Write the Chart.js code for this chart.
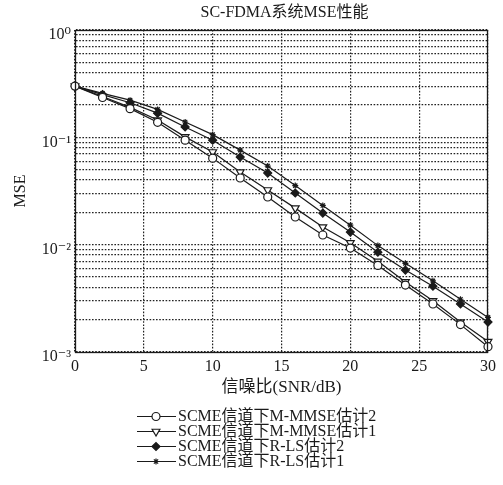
<!DOCTYPE html>
<html>
<head>
<meta charset="utf-8">
<script src="https://cdn.jsdelivr.net/npm/chart.js"></script>
<style>
  html, body { margin: 0; padding: 0; background: #fff; }
  #wrap { width: 503px; height: 485px; }
</style>
</head>
<body>
<div id="wrap"><canvas id="mse-chart" width="503" height="485"></canvas></div>
<script>
const snrValues = [0, 2, 4, 6, 8, 10, 12, 14, 16, 18, 20, 22, 24, 26, 28, 30];
// MSE, one value per SNR point
const mmseEst2 = [0.30, 0.235, 0.185, 0.138, 0.094, 0.064, 0.0418, 0.0278, 0.0181, 0.0123, 0.0093, 0.0064, 0.0042, 0.0028, 0.0018, 0.00112];
const mmseEst1 = [0.30, 0.24, 0.19, 0.145, 0.101, 0.073, 0.0475, 0.0323, 0.0219, 0.0146, 0.0104, 0.0070, 0.0045, 0.0030, 0.0019, 0.00125];
const rlsEst2 = [0.30, 0.25, 0.21, 0.168, 0.125, 0.094, 0.0655, 0.0465, 0.0303, 0.0197, 0.0131, 0.0085, 0.0058, 0.0041, 0.0028, 0.0019];
const rlsEst1 = [0.30, 0.257, 0.222, 0.182, 0.139, 0.106, 0.076, 0.054, 0.0355, 0.0232, 0.0152, 0.0098, 0.0067, 0.0046, 0.0031, 0.0021];

const seriesLabels = [
  'SCME信道下M-MMSE估计2',
  'SCME信道下M-MMSE估计1',
  'SCME信道下R-LS估计2',
  'SCME信道下R-LS估计1',
];
const yDecadeLabels = ['10⁻³', '10⁻²', '10⁻¹', '10⁰'];
const chartTitle = 'SC-FDMA系统MSE性能';
const xAxisTitle = '信噪比(SNR/dB)';
const yAxisTitle = 'MSE';

const SERIF = "'Liberation Serif', 'DejaVu Serif', 'Noto Sans CJK SC', serif";
const INK = '#1a1a1a';
const GRID = '#222';

function seriesPoints(values) {
  return snrValues.map((x, i) => ({ x: x, y: values[i] }));
}

function makeDataset(label, values, style) {
  return {
    label: label,
    data: seriesPoints(values),
    borderColor: INK,
    borderWidth: 1.2,
    pointBorderColor: INK,
    pointBorderWidth: 1.2,
    clip: false,
    ...style,
  };
}

const datasets = [
  makeDataset(seriesLabels[0], mmseEst2, { pointStyle: 'circle', pointRadius: 4, pointBackgroundColor: '#fff' }),
  makeDataset(seriesLabels[1], mmseEst1, { pointStyle: 'triangle', pointRotation: 180, pointRadius: 4.5, pointBackgroundColor: '#fff' }),
  makeDataset(seriesLabels[2], rlsEst2, { pointStyle: 'rectRot', pointRadius: 4, pointBackgroundColor: INK }),
  makeDataset(seriesLabels[3], rlsEst1, { pointStyle: 'star', pointRadius: 3, pointBackgroundColor: INK }),
];

// frame, title and the MATLAB style legend under the axis
const decorPlugin = {
  id: 'decor',
  afterDraw(chart) {
    const { ctx, chartArea: a } = chart;
    ctx.save();
    ctx.strokeStyle = INK;
    ctx.lineWidth = 1.3;
    ctx.strokeRect(a.left + 0.5, a.top + 0.5, a.right - a.left - 1, a.bottom - a.top);

    ctx.fillStyle = INK;
    ctx.font = '16px ' + SERIF;
    ctx.textAlign = 'center';
    ctx.textBaseline = 'middle';
    ctx.fillText(chartTitle, (a.left + a.right) / 2 + 3, 13);

    const rows = [416, 431, 446, 461];
    ctx.textAlign = 'left';
    chart.data.datasets.forEach((ds, i) => {
      const y = rows[i];
      ctx.strokeStyle = INK;
      ctx.lineWidth = 1.2;
      ctx.beginPath();
      ctx.moveTo(137, y + 0.5);
      ctx.lineTo(176, y + 0.5);
      ctx.stroke();
      const opts = {
        pointStyle: ds.pointStyle,
        radius: ds.pointRadius,
        rotation: ds.pointRotation || 0,
        borderWidth: 1.2,
      };
      ctx.fillStyle = ds.pointBackgroundColor;
      ctx.strokeStyle = INK;
      if (Chart.helpers && Chart.helpers.drawPoint) {
        Chart.helpers.drawPoint(ctx, opts, 156, y + 0.5);
      }
      ctx.fillStyle = INK;
      ctx.fillText(ds.label, 178, y + 1);
    });
    ctx.restore();
  },
};

function buildLogTicks(scale) {
  const ticks = [];
  for (let e = -3; e <= 0; e++) {
    for (let m = 1; m <= 9; m++) {
      const v = m * Math.pow(10, e);
      if (v > 1.0000001) break;
      ticks.push({ value: v });
    }
  }
  scale.ticks = ticks;
}

function logTickLabel(value) {
  const e = Math.round(Math.log10(value));
  if (Math.abs(value - Math.pow(10, e)) < 1e-9) {
    return yDecadeLabels[e + 3];
  }
  return '';
}

const ctx = document.getElementById('mse-chart').getContext('2d');
new Chart(ctx, {
  type: 'line',
  data: { datasets: datasets },
  options: {
    responsive: false,
    animation: false,
    layout: { padding: { top: 30, right: 15, bottom: 83, left: 0 } },
    plugins: {
      legend: { display: false },
      title: { display: false },
      tooltip: { enabled: false },
    },
    scales: {
      x: {
        type: 'linear',
        min: 0,
        max: 30,
        afterFit(scale) { scale.height = 50; },
        ticks: { stepSize: 5, color: INK, padding: 5, font: { family: SERIF, size: 16 } },
        grid: { color: GRID, lineWidth: 1.2, drawTicks: false },
        border: { display: true, color: INK, dash: [1.6, 1.6] },
        title: { display: true, text: xAxisTitle, color: INK, padding: { top: 0, bottom: 4 }, font: { family: SERIF, size: 17 } },
      },
      y: {
        type: 'logarithmic',
        min: 0.001,
        max: 1,
        afterFit(scale) { scale.width = 75; },
        afterBuildTicks: buildLogTicks,
        ticks: { autoSkip: false, color: INK, padding: 4, labelOffset: 5, font: { family: SERIF, size: 16 }, callback: logTickLabel },
        grid: { color: GRID, lineWidth: 1.2, drawTicks: false },
        border: { display: true, color: INK, dash: [1.6, 1.6] },
        title: { display: true, text: yAxisTitle, color: INK, padding: { top: 11, bottom: 0 }, font: { family: SERIF, size: 16 } },
      },
    },
  },
  plugins: [decorPlugin],
});
</script>
</body>
</html>
